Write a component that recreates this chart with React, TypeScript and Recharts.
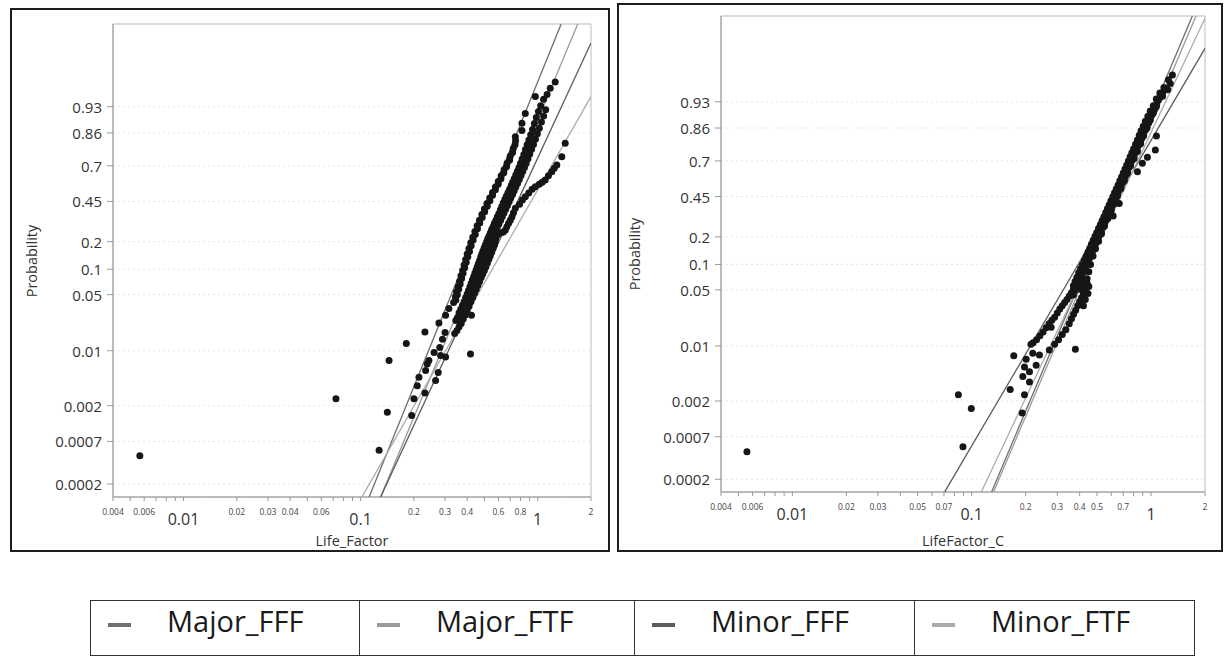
import React from 'react';
import { ScatterChart, Scatter, XAxis, YAxis, CartesianGrid, ReferenceArea } from 'recharts';

type Pt = [number, number];

const FONT = "'Open Sans', 'Noto Sans', sans-serif";

// Probability tick labels (logit probability scale)
const yTickLabels = ['0.0002', '0.0007', '0.002', '0.01', '0.05', '0.1', '0.2', '0.45', '0.7', '0.86', '0.93'];

// All tick positions on the log x axis
const xTicksAll = [
  0.004, 0.005, 0.006, 0.007, 0.008, 0.009,
  0.01, 0.02, 0.03, 0.04, 0.05, 0.06, 0.07, 0.08, 0.09,
  0.1, 0.2, 0.3, 0.4, 0.5, 0.6, 0.7, 0.8, 0.9,
  1, 2,
];
const xBigLabels = [0.01, 0.1, 1];
const leftSmallLabels = [0.004, 0.006, 0.02, 0.03, 0.04, 0.06, 0.2, 0.3, 0.4, 0.6, 0.8, 2];
const rightSmallLabels = [0.004, 0.006, 0.02, 0.03, 0.05, 0.07, 0.2, 0.3, 0.4, 0.5, 0.7, 2];

const seriesNames = ['Major_FFF', 'Major_FTF', 'Minor_FFF', 'Minor_FTF'];
const seriesColors = ['#6f6f6f', '#9a9a9a', '#5c5c5c', '#ababab'];

const leftYDomain: [number, number] = [-8.9, 5.02];
const rightYDomain: [number, number] = [-8.89, 5.11];

// ---------- Left panel (Life_Factor) : [value, probability] ----------
const leftMajorFFF: Pt[] = [
  [0.335, 0.04], [0.345, 0.043], [0.343, 0.047], [0.352, 0.05], [0.348, 0.054], [0.358, 0.058], [0.355, 0.062],
  [0.365, 0.067], [0.362, 0.072], [0.372, 0.078], [0.369, 0.084], [0.379, 0.09], [0.377, 0.097], [0.387, 0.104],
  [0.384, 0.112], [0.395, 0.12], [0.392, 0.129], [0.403, 0.138], [0.4, 0.148], [0.412, 0.158], [0.409, 0.17],
  [0.421, 0.182], [0.419, 0.195], [0.432, 0.208], [0.43, 0.222], [0.444, 0.236], [0.442, 0.252], [0.457, 0.268],
  [0.455, 0.285], [0.471, 0.302], [0.469, 0.32], [0.486, 0.338], [0.484, 0.357], [0.502, 0.376], [0.5, 0.395],
  [0.519, 0.415], [0.517, 0.435], [0.537, 0.455], [0.536, 0.475], [0.556, 0.495], [0.556, 0.515], [0.577, 0.535],
  [0.577, 0.555], [0.598, 0.575], [0.599, 0.595], [0.62, 0.615], [0.622, 0.635], [0.643, 0.655], [0.646, 0.675],
  [0.668, 0.695], [0.672, 0.715], [0.695, 0.735], [0.7, 0.755], [0.722, 0.775], [0.728, 0.795], [0.745, 0.812],
  [0.75, 0.83], [0.748, 0.846], [0.815, 0.868], [0.815, 0.891], [0.851, 0.916], [0.97, 0.947],
  [0.3151, 0.0337], [0.302, 0.0278], [0.2769, 0.0223], [0.2309, 0.0172], [0.1812, 0.0123], [0.1448, 0.0075],
  [0.0726, 0.00245], [0.00567, 0.00046],
];
const leftMajorFTF: Pt[] = [
  [0.345, 0.024], [0.352, 0.026], [0.36, 0.03], [0.368, 0.033], [0.376, 0.037], [0.384, 0.041], [0.392, 0.046],
  [0.4, 0.051], [0.407, 0.056], [0.414, 0.062], [0.421, 0.068], [0.428, 0.075], [0.435, 0.082], [0.442, 0.09],
  [0.449, 0.098], [0.456, 0.107], [0.463, 0.116], [0.47, 0.126], [0.477, 0.137], [0.484, 0.148], [0.491, 0.16],
  [0.499, 0.173], [0.507, 0.186], [0.515, 0.2], [0.523, 0.215], [0.532, 0.23], [0.541, 0.246], [0.55, 0.263],
  [0.56, 0.28], [0.57, 0.3], [0.581, 0.32], [0.592, 0.342], [0.604, 0.365], [0.616, 0.39], [0.628, 0.415],
  [0.64, 0.44], [0.653, 0.465], [0.666, 0.49], [0.68, 0.515], [0.694, 0.54], [0.708, 0.565], [0.722, 0.59],
  [0.737, 0.615], [0.752, 0.64], [0.768, 0.665], [0.784, 0.69], [0.8, 0.715], [0.817, 0.74], [0.835, 0.765],
  [0.853, 0.79], [0.872, 0.812], [0.892, 0.833], [0.913, 0.853], [0.935, 0.872], [0.958, 0.89], [0.982, 0.906],
  [1.01, 0.92], [1.04, 0.932], [1.08, 0.943], [1.13, 0.95], [1.177, 0.958], [1.256, 0.965],
];
const leftMinorFFF: Pt[] = [
  [0.36, 0.028], [0.375, 0.033], [0.39, 0.039], [0.405, 0.046], [0.418, 0.054], [0.43, 0.063], [0.442, 0.072],
  [0.453, 0.082], [0.464, 0.093], [0.475, 0.105], [0.486, 0.118], [0.497, 0.132], [0.508, 0.147], [0.519, 0.162],
  [0.53, 0.178], [0.541, 0.195], [0.553, 0.213], [0.565, 0.232], [0.577, 0.252], [0.59, 0.273], [0.603, 0.295],
  [0.617, 0.318], [0.631, 0.342], [0.645, 0.367], [0.66, 0.393], [0.675, 0.42], [0.69, 0.447], [0.705, 0.474],
  [0.721, 0.501], [0.737, 0.528], [0.753, 0.555], [0.77, 0.582], [0.787, 0.609], [0.805, 0.636], [0.823, 0.663],
  [0.842, 0.69], [0.861, 0.716], [0.881, 0.742], [0.902, 0.767], [0.924, 0.791], [0.947, 0.814], [0.971, 0.836],
  [0.996, 0.857], [1.022, 0.876], [1.05, 0.894], [1.08, 0.91], [1.11, 0.924],
  [0.2431, 0.0075], [0.2378, 0.0068], [0.233, 0.0056], [0.2136, 0.0046], [0.209, 0.0036], [0.2002, 0.00245],
  [0.1944, 0.0015], [0.2309, 0.0029], [0.2652, 0.0042], [0.2744, 0.0053], [0.283, 0.0087], [0.302, 0.0083],
  [0.28, 0.011], [0.29, 0.014], [0.3, 0.017], [0.26, 0.0095], [0.1272, 0.00054], [0.1416, 0.00165],
];
const leftMinorFTF: Pt[] = [
  [1.43, 0.819], [1.368, 0.753], [1.282, 0.705], [1.24, 0.685], [1.201, 0.662], [1.15, 0.635], [1.103, 0.605],
  [1.06, 0.59], [1.02, 0.575], [0.969, 0.557], [0.93, 0.54], [0.89, 0.512], [0.851, 0.484], [0.82, 0.46],
  [0.79, 0.43], [0.748, 0.4], [0.73, 0.37], [0.716, 0.342], [0.7, 0.32], [0.685, 0.3], [0.67, 0.28], [0.657, 0.26],
  [0.64, 0.25], [0.62, 0.245], [0.6, 0.24], [0.589, 0.232], [0.58, 0.215], [0.575, 0.2], [0.57, 0.185],
  [0.56, 0.17], [0.55, 0.155], [0.54, 0.142], [0.53, 0.13], [0.52, 0.118], [0.51, 0.107], [0.5, 0.097],
  [0.49, 0.088], [0.48, 0.08], [0.47, 0.072], [0.46, 0.065], [0.45, 0.058], [0.44, 0.052], [0.43, 0.046],
  [0.42, 0.041], [0.41, 0.036], [0.4, 0.032], [0.39, 0.028], [0.38, 0.025], [0.37, 0.022], [0.36, 0.02],
  [0.35, 0.018], [0.34, 0.0165], [0.4228, 0.0278], [0.4174, 0.0091],
];

// Fitted lines (end points read at the plot edges)
const leftFitMajorFFF: Pt[] = [[0.1117, 0.000136], [1.357, 0.99344]];
const leftFitMajorFTF: Pt[] = [[0.1297, 0.000136], [1.683, 0.99344]];
const leftFitMinorFFF: Pt[] = [[0.1297, 0.000136], [2, 0.9886]];
const leftFitMinorFTF: Pt[] = [[0.1017, 0.000136], [2, 0.947]];

// ---------- Right panel (LifeFactor_C) ----------
const rightMajorFFF: Pt[] = [
  [1.316, 0.967], [1.28, 0.958], [1.22, 0.951], [1.16, 0.945], [1.12, 0.938], [1.1, 0.933], [1.075, 0.924],
  [1.05, 0.915], [1.03, 0.908], [1.012, 0.9], [0.99, 0.89], [0.97, 0.877], [0.95, 0.865], [0.931, 0.853],
  [0.91, 0.838], [0.89, 0.82], [0.872, 0.805], [0.855, 0.789], [0.837, 0.77], [0.82, 0.75], [0.803, 0.728],
  [0.787, 0.706], [0.77, 0.684], [0.755, 0.66], [0.74, 0.634], [0.724, 0.607], [0.71, 0.58], [0.695, 0.555],
  [0.68, 0.527], [0.665, 0.498], [0.652, 0.47], [0.64, 0.445], [0.626, 0.418], [0.612, 0.39], [0.6, 0.365],
  [0.587, 0.34], [0.575, 0.315], [0.562, 0.291], [0.55, 0.27], [0.54, 0.25], [0.528, 0.229], [0.517, 0.209],
  [0.506, 0.192], [0.495, 0.175], [0.485, 0.16], [0.475, 0.145], [0.465, 0.132], [0.455, 0.12], [0.446, 0.109],
  [0.437, 0.0985], [0.428, 0.09], [0.42, 0.082], [0.411, 0.074], [0.402, 0.0657], [0.393, 0.06], [0.385, 0.054],
  [0.377, 0.049], [0.369, 0.0433],
];
const rightMajorFTF: Pt[] = [
  [1.24, 0.95], [1.16, 0.94], [1.07, 0.92], [1.03, 0.905], [0.99, 0.885], [0.95, 0.86], [0.91, 0.83],
  [0.875, 0.795], [0.84, 0.755], [0.805, 0.715], [0.77, 0.67], [0.74, 0.62], [0.71, 0.565], [0.68, 0.51],
  [0.65, 0.455], [0.625, 0.4], [0.6, 0.35], [0.575, 0.3], [0.55, 0.255], [0.53, 0.215], [0.51, 0.18],
  [0.49, 0.15], [0.475, 0.125], [0.46, 0.1], [0.45, 0.082], [0.44, 0.068], [0.435, 0.057], [0.43, 0.05],
  [0.42, 0.045], [0.41, 0.04], [0.4, 0.036], [0.39, 0.032], [0.38, 0.028], [0.37, 0.025], [0.36, 0.022],
  [0.35, 0.019], [0.335, 0.016], [0.32, 0.014], [0.305, 0.012], [0.29, 0.0105], [0.271, 0.0089],
  [0.44, 0.06], [0.45, 0.055], [0.43, 0.065], [0.42, 0.058], [0.41, 0.05], [0.445, 0.045], [0.43, 0.038],
  [0.42, 0.032],
];
const rightMinorFFF: Pt[] = [
  [1.25, 0.962], [1.18, 0.953], [1.12, 0.945], [1.07, 0.935], [1.03, 0.922], [0.99, 0.91], [0.96, 0.897],
  [0.93, 0.882], [0.905, 0.866], [0.88, 0.85], [0.86, 0.832], [0.84, 0.812], [0.82, 0.792], [0.8, 0.77],
  [0.782, 0.748], [0.765, 0.725], [0.748, 0.7], [0.732, 0.675], [0.716, 0.648], [0.7, 0.62], [0.685, 0.592],
  [0.67, 0.565], [0.655, 0.535], [0.64, 0.505], [0.626, 0.477], [0.612, 0.448], [0.598, 0.42], [0.585, 0.392],
  [0.572, 0.365], [0.559, 0.338], [0.546, 0.312], [0.534, 0.288], [0.522, 0.265], [0.51, 0.243], [0.498, 0.222],
  [0.487, 0.203], [0.476, 0.185], [0.465, 0.168], [0.455, 0.152], [0.445, 0.138], [0.435, 0.125], [0.425, 0.112],
  [0.415, 0.1], [0.405, 0.09], [0.395, 0.08], [0.386, 0.071], [0.377, 0.063], [0.369, 0.056],
  [0.369, 0.05], [0.36, 0.046], [0.35, 0.042], [0.34, 0.038], [0.33, 0.035], [0.32, 0.032], [0.31, 0.029],
  [0.3, 0.026], [0.29, 0.023], [0.28, 0.021], [0.27, 0.019], [0.26, 0.017], [0.25, 0.015], [0.24, 0.0135],
  [0.23, 0.012], [0.22, 0.011], [0.214, 0.0105],
];
const rightMinorFTF: Pt[] = [
  [1.072, 0.829], [1.057, 0.763], [0.955, 0.722], [0.895, 0.685], [0.84, 0.63], [0.665, 0.4], [0.615, 0.316],
  [0.00558, 0.00045], [0.0843, 0.0024], [0.0995, 0.0016], [0.0894, 0.00052], [0.164, 0.0028], [0.1717, 0.0075],
  [0.2013, 0.0068], [0.2191, 0.0081], [0.2387, 0.0077], [0.197, 0.0054], [0.21, 0.0047], [0.2288, 0.0057],
  [0.1928, 0.0041], [0.21, 0.0035], [0.197, 0.0024], [0.1912, 0.0014], [0.2773, 0.0172], [0.3786, 0.0091],
];

const rightFitMajorFFF: Pt[] = [[0.1291, 0.000138], [1.7, 0.994]];
const rightFitMajorFTF: Pt[] = [[0.1324, 0.000138], [1.782, 0.994]];
const rightFitMinorFFF: Pt[] = [[0.0707, 0.000138], [2, 0.9846]];
const rightFitMinorFTF: Pt[] = [[0.1131, 0.000138], [2, 0.99358]];

const logit = (p: number) => Math.log(p / (1 - p));
const toRows = (pts: Pt[]) => pts.map(([x, p]) => ({ x, y: logit(p) }));
const yTicks = yTickLabels.map((s) => logit(parseFloat(s)));
const yFmt = (v: number) => {
  let best = 0;
  yTicks.forEach((t, i) => {
    if (Math.abs(t - v) < Math.abs(yTicks[best] - v)) best = i;
  });
  return yTickLabels[best];
};
const near = (arr: number[], v: number) => arr.some((a) => Math.abs(a - v) < 1e-9);

const makeXTick = (small: number[]) => (props: any) => {
  const { x, y, payload } = props;
  const v = payload.value;
  if (near(xBigLabels, v)) {
    return (
      <text x={x} y={y + 16} textAnchor="middle" dominantBaseline="central" fontSize={16} fill="#333" fontFamily={FONT}>
        {String(v)}
      </text>
    );
  }
  if (near(small, v)) {
    return (
      <text x={x} y={y + 8} textAnchor="middle" dominantBaseline="central" fontSize={8.5} fill="#444" fontFamily={FONT}>
        {String(v)}
      </text>
    );
  }
  return <g />;
};

const YTick = (props: any) => {
  const { x, y, payload } = props;
  return (
    <text x={x} y={y} textAnchor="end" dominantBaseline="central" fontSize={15} fill="#333" fontFamily={FONT}>
      {yFmt(payload.value)}
    </text>
  );
};

const Dot = (props: any) => <circle cx={props.cx} cy={props.cy} r={3.5} fill="#161616" />;
const NoDot = () => <g />;

type PanelProps = {
  width: number;
  height: number;
  margin: { top: number; right: number; bottom: number; left: number };
  yDomain: [number, number];
  points: Pt[][];
  fits: Pt[][];
  smallLabels: number[];
};

function Panel({ width, height, margin, yDomain, points, fits, smallLabels }: PanelProps) {
  return (
    <ScatterChart width={width} height={height} margin={margin}>
      <CartesianGrid vertical={false} stroke="#e6e6e6" strokeDasharray="2 3" />
      <XAxis
        dataKey="x"
        type="number"
        scale="log"
        domain={[0.004, 2]}
        allowDataOverflow
        ticks={xTicksAll}
        interval={0}
        height={40}
        tickSize={4}
        tickMargin={2}
        stroke="#9a9a9a"
        tick={makeXTick(smallLabels)}
      />
      <YAxis
        dataKey="y"
        type="number"
        domain={yDomain}
        allowDataOverflow
        ticks={yTicks}
        interval={0}
        width={100}
        tickSize={6}
        tickMargin={5}
        stroke="#9a9a9a"
        tick={YTick}
      />
      <ReferenceArea x1={0.004} x2={2} y1={yDomain[0]} y2={yDomain[1]} fill="none" stroke="#bdbdbd" strokeWidth={1} />
      {fits.map((f, i) => (
        <Scatter
          key={'fit' + i}
          name={seriesNames[i] + ' fit'}
          data={toRows(f)}
          line={{ stroke: seriesColors[i], strokeWidth: 1.3 }}
          shape={NoDot}
          isAnimationActive={false}
        />
      ))}
      {points.map((p, i) => (
        <Scatter key={'pts' + i} name={seriesNames[i]} data={toRows(p)} shape={Dot} isAnimationActive={false} />
      ))}
    </ScatterChart>
  );
}

const legendCells = [
  { left: 90, width: 269 },
  { left: 359, width: 275 },
  { left: 634, width: 280 },
  { left: 914, width: 281 },
];

export default function App() {
  const border = '2.5px solid #1e1e1e';
  return (
    <div style={{ position: 'absolute', left: 0, top: 0, width: 1225, height: 661, background: '#fff', fontFamily: FONT, overflow: 'hidden' }}>
      <div style={{ position: 'absolute', left: 10, top: 8, width: 600, height: 544, border, boxSizing: 'border-box' }} />
      <div style={{ position: 'absolute', left: 617, top: 3, width: 606, height: 549, border, boxSizing: 'border-box' }} />

      <div style={{ position: 'absolute', left: 0, top: 0 }}>
        <Panel
          width={612}
          height={560}
          margin={{ top: 24, right: 21, bottom: 23, left: 13 }}
          yDomain={leftYDomain}
          points={[leftMajorFFF, leftMajorFTF, leftMinorFFF, leftMinorFTF]}
          fits={[leftFitMajorFFF, leftFitMajorFTF, leftFitMinorFFF, leftFitMinorFTF]}
          smallLabels={leftSmallLabels}
        />
      </div>
      <div style={{ position: 'absolute', left: 612, top: 0 }}>
        <Panel
          width={613}
          height={560}
          margin={{ top: 16, right: 20, bottom: 28, left: 9 }}
          yDomain={rightYDomain}
          points={[rightMajorFFF, rightMajorFTF, rightMinorFFF, rightMinorFTF]}
          fits={[rightFitMajorFFF, rightFitMajorFTF, rightFitMinorFFF, rightFitMinorFTF]}
          smallLabels={rightSmallLabels}
        />
      </div>

      {/* axis titles */}
      <div style={{ position: 'absolute', left: 31, top: 261, transform: 'translate(-50%, -50%) rotate(-90deg)', fontSize: 14.5, color: '#333', whiteSpace: 'nowrap' }}>Probability</div>
      <div style={{ position: 'absolute', left: 634, top: 254, transform: 'translate(-50%, -50%) rotate(-90deg)', fontSize: 14.5, color: '#333', whiteSpace: 'nowrap' }}>Probability</div>
      <div style={{ position: 'absolute', left: 352, top: 540, transform: 'translate(-50%, -50%)', fontSize: 14.5, color: '#333', whiteSpace: 'nowrap' }}>Life_Factor</div>
      <div style={{ position: 'absolute', left: 963, top: 540, transform: 'translate(-50%, -50%)', fontSize: 14.5, color: '#333', whiteSpace: 'nowrap' }}>LifeFactor_C</div>

      {/* legend */}
      {legendCells.map((c, i) => (
        <div
          key={i}
          style={{
            position: 'absolute',
            left: c.left,
            top: 600,
            width: c.width + (i === legendCells.length - 1 ? 0 : 1),
            height: 56,
            border: '1.5px solid #333',
            boxSizing: 'border-box',
          }}
        >
          <div style={{ position: 'absolute', left: 17, top: 22, width: 23, height: 4, background: seriesColors[i] }} />
          <div style={{ position: 'absolute', left: 76, top: 1, fontSize: 29, lineHeight: '38px', color: '#1a1a1a', whiteSpace: 'nowrap' }}>
            {seriesNames[i]}
          </div>
        </div>
      ))}
    </div>
  );
}
